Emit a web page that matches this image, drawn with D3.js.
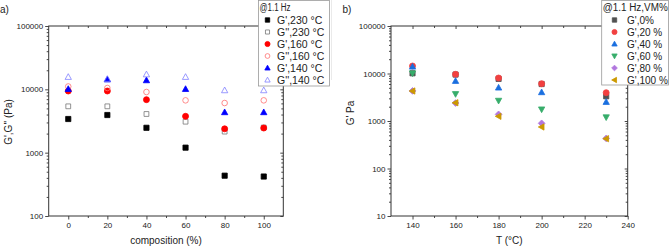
<!DOCTYPE html>
<html><head><meta charset="utf-8">
<script src="https://cdn.jsdelivr.net/npm/d3@7"></script>
<style>
html,body{margin:0;padding:0;background:#fff;}
svg{display:block;font-family:"Liberation Sans",Arial,sans-serif;}
</style></head>
<body>
<svg id="c" width="669" height="246"></svg>
<script>
// ---------- Panel a data ----------
const compositions = [0, 20, 40, 60, 80, 100];
const gp230  = [3400, 3930, 2470, 1200, 433, 420];
const gpp230 = [5390, 5390, 4080, 3085, 2150, 2500];
const gp160  = [9410, 9410, 6870, 3750, 2380, 2450];
const gpp160 = [11100, 10500, 9080, 6700, 6080, 6700];
const gp140  = [10100, 14300, 13870, 10100, 4340, 4340];
const gpp140 = [15660, 14560, 17200, 15660, 9640, 9640];
const seriesA = ["G',230 °C", "G'',230 °C", "G',160 °C", "G'',160 °C", "G',140 °C", "G'',140 °C"];
const xTicksA = [0, 20, 40, 60, 80, 100];
const yTicksA = [100, 1000, 10000, 100000];

// ---------- Panel b data ----------
const temperatures = [140, 160, 180, 200, 230];
const vm0   = [10100, 9500, 7700, 6000, 3310];
const vm20  = [14380, 9600, 8040, 6100, 3940];
const vm40  = [13900, 6950, 5030, 4020, 2510];
const vm60  = [10100, 3700, 2680, 1760, 1200];
const vm80  = [4300, 2390, 1380, 893, 430];
const vm100 = [4280, 2420, 1255, 748, 424];
const seriesB = ["G',0%", "G',20 %", "G',40 %", "G',60 %", "G',80 %", "G',100 %"];
const xTicksB = [140, 160, 180, 200, 220, 240];
const yTicksB = [10, 100, 1000, 10000, 100000];

const svg = d3.select("#c");

function symPath(type, r) {
  switch (type) {
    case "square": return `M${-r},${-r}h${2*r}v${2*r}h${-2*r}Z`;
    case "circle": return `M${r},0A${r},${r} 0 1,1 ${-r},0A${r},${r} 0 1,1 ${r},0Z`;
    case "up": return `M0,${-r*1.1}L${r*1.05},${r*0.8}L${-r*1.05},${r*0.8}Z`;
    case "down": return `M0,${r*1.1}L${r*1.05},${-r*0.8}L${-r*1.05},${-r*0.8}Z`;
    case "left": return `M${-r*1.1},0L${r*0.8},${-r*1.05}L${r*0.8},${r*1.05}Z`;
    case "diamond": return `M0,${-r*1.2}L${r*1.2},0L0,${r*1.2}L${-r*1.2},0Z`;
  }
}

function drawPanel(cfg) {
  const g = svg.append("g");
  const x = d3.scaleLinear().domain(cfg.xDomain).range([cfg.l, cfg.r]);
  const y = d3.scaleLog().domain(cfg.yDomain).range([cfg.b, cfg.t]);
  const axisColor = "#333";

  // minor values
  const xMinor = [];
  for (let i = 0; i < cfg.xTicks.length - 1; i++) xMinor.push((cfg.xTicks[i] + cfg.xTicks[i+1]) / 2);
  if (cfg.extraMinorX) cfg.extraMinorX.forEach(v => xMinor.push(v));
  const yMinor = y.ticks().filter(v => !cfg.yTicks.includes(v));

  // bottom major
  const bx = g.append("g").attr("transform", `translate(0,${cfg.b})`)
    .call(d3.axisBottom(x).tickValues(cfg.xTicks).tickSize(3.5).tickPadding(3).tickFormat(d3.format("d")));
  bx.append("g").call(d3.axisBottom(x).tickValues(xMinor).tickSize(2).tickFormat(""));
  // top (inward)
  const tx = g.append("g").attr("transform", `translate(0,${cfg.t})`)
    .call(d3.axisBottom(x).tickValues(cfg.xTicks).tickSize(3).tickFormat(""));
  tx.append("g").call(d3.axisBottom(x).tickValues(xMinor).tickSize(2).tickFormat(""));
  // left
  const ly = g.append("g").attr("transform", `translate(${cfg.l},0)`)
    .call(d3.axisLeft(y).tickValues(cfg.yTicks).tickSize(3.5).tickPadding(2).tickFormat(d3.format("d")));
  ly.append("g").call(d3.axisLeft(y).tickValues(yMinor).tickSize(2).tickFormat(""));
  // right (inward)
  const ry = g.append("g").attr("transform", `translate(${cfg.r},0)`)
    .call(d3.axisLeft(y).tickValues(cfg.yTicks).tickSize(3).tickFormat(""));
  ry.append("g").call(d3.axisLeft(y).tickValues(yMinor).tickSize(2).tickFormat(""));

  g.selectAll(".domain").remove();
  g.selectAll(".tick line").attr("stroke", axisColor).attr("stroke-width", 0.9);
  g.selectAll(".tick text").attr("fill", "#222").style("font-size", "8px")
    .style("font-family", "'Liberation Sans',Arial,sans-serif");

  // frame
  g.append("rect").attr("x", cfg.l).attr("y", cfg.t)
    .attr("width", cfg.r - cfg.l).attr("height", cfg.b - cfg.t)
    .attr("fill", "none").attr("stroke", axisColor).attr("stroke-width", 1);

  // data
  cfg.series.forEach((s, si) => {
    g.append("g").selectAll("path").data(s.values).join("path")
      .attr("transform", (d, i) => `translate(${x(cfg.xVals[i])},${y(d)})`)
      .attr("d", symPath(s.shape, s.r))
      .attr("fill", s.fill).attr("stroke", s.stroke).attr("stroke-width", s.sw || 0.8);
  });

  // axis titles
  g.append("text").attr("x", (cfg.l + cfg.r) / 2).attr("y", 244).attr("text-anchor", "middle")
    .style("font-size", "10px").attr("fill", "#222").text(cfg.xTitle);
  g.append("text").attr("transform", `translate(${cfg.yTitleX},${cfg.yTitleY}) rotate(-90)`)
    .attr("text-anchor", "middle").style("font-size", "10px").attr("fill", "#222").text(cfg.yTitle);
  g.append("text").attr("x", cfg.panelX).attr("y", 13).style("font-size", "10px").attr("fill", "#222").text(cfg.panelLabel);

  // legend
  const L = cfg.legend;
  const lg = svg.append("g");
  lg.append("rect").attr("x", L.x0).attr("y", 0.5).attr("width", L.x1 - L.x0).attr("height", L.y1 - 0.5)
    .attr("fill", "#fff").attr("stroke", "#999").attr("stroke-width", 0.8);
  lg.append("text").attr("x", L.x0 + 1).attr("y", 10.5).style("font-size", L.titleSize).attr("fill", "#222")
    .attr("textLength", L.titleLen).attr("lengthAdjust", "spacingAndGlyphs").text(L.title);
  cfg.series.forEach((s, i) => {
    const cy = 20 + i * 12;
    lg.append("path").attr("transform", `translate(${L.mx},${cy})`)
      .attr("d", symPath(s.shape, s.r * 0.85))
      .attr("fill", s.fill).attr("stroke", s.stroke).attr("stroke-width", s.sw || 0.8);
    lg.append("text").attr("x", L.tx).attr("y", cy + 3.8).style("font-size", L.size).attr("fill", "#222").text(s.name);
  });
}

// Panel a
drawPanel({
  l: 48.7, r: 283.3, t: 26, b: 216,
  xDomain: [-10, 110], yDomain: [100, 100000],
  xTicks: xTicksA, yTicks: yTicksA, xVals: compositions,
  extraMinorX: [-10, 110].filter(() => false),
  xTitle: "composition (%)", yTitle: "G',G'' (Pa)", yTitleX: 11.5, yTitleY: 122,
  panelLabel: "a)", panelX: 0,
  series: [
    {name: seriesA[0], values: gp230,  shape: "square", r: 2.6, fill: "#000", stroke: "#000"},
    {name: seriesA[1], values: gpp230, shape: "square", r: 2.4, fill: "none", stroke: "#777"},
    {name: seriesA[2], values: gp160,  shape: "circle", r: 3, fill: "#ff0000", stroke: "#ff0000"},
    {name: seriesA[3], values: gpp160, shape: "circle", r: 2.8, fill: "none", stroke: "#ff7070"},
    {name: seriesA[4], values: gp140,  shape: "up", r: 3, fill: "#0000ff", stroke: "#0000ff"},
    {name: seriesA[5], values: gpp140, shape: "up", r: 3, fill: "none", stroke: "#8080ff"}
  ],
  legend: {x0: 258.5, x1: 329.5, y1: 86, title: "@1.1 Hz", titleSize: "10px", titleLen: 31,
           mx: 267.5, tx: 277, size: "10.5px"}
});

// Panel b
drawPanel({
  l: 391, r: 627.7, t: 26, b: 216,
  xDomain: [130, 240], yDomain: [10, 100000],
  xTicks: xTicksB, yTicks: yTicksB, xVals: temperatures,
  xTitle: "T (°C)", yTitle: "G' Pa", yTitleX: 354, yTitleY: 113,
  panelLabel: "b)", panelX: 342.5,
  series: [
    {name: seriesB[0], values: vm0,   shape: "square", r: 2.6, fill: "#515151", stroke: "#515151"},
    {name: seriesB[1], values: vm20,  shape: "circle", r: 3, fill: "#F14040", stroke: "#F14040"},
    {name: seriesB[2], values: vm40,  shape: "up", r: 3, fill: "#1A6FDF", stroke: "#1A6FDF"},
    {name: seriesB[3], values: vm60,  shape: "down", r: 3, fill: "#37AD6B", stroke: "#37AD6B"},
    {name: seriesB[4], values: vm80,  shape: "diamond", r: 2.8, fill: "#B177DE", stroke: "#B177DE"},
    {name: seriesB[5], values: vm100, shape: "left", r: 3, fill: "#CC9900", stroke: "#CC9900"}
  ],
  legend: {x0: 601.7, x1: 668.5, y1: 85, title: "@1.1 Hz,VM%", titleSize: "10px", titleLen: 65,
           mx: 614.5, tx: 627, size: "10px"}
});

// faint border of the left image region
svg.append("path").attr("d", "M331.5,0V80").attr("stroke", "#e4e4e4").attr("fill", "none").attr("stroke-width", 0.8);
</script>
</body></html>
